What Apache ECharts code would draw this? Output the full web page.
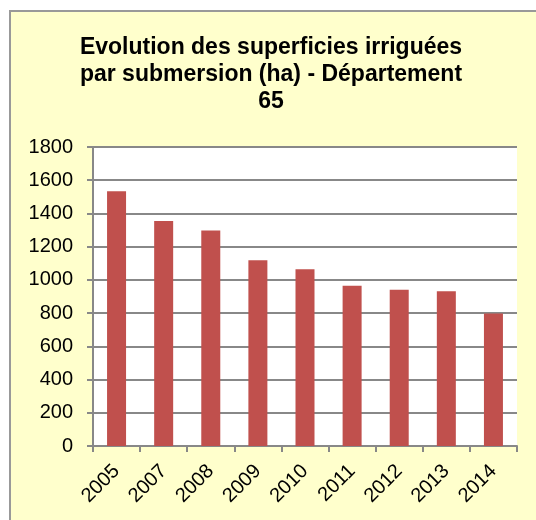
<!DOCTYPE html>
<html>
<head>
<meta charset="utf-8">
<script src="https://cdn.jsdelivr.net/npm/echarts@6/dist/echarts.min.js"></script>
<style>
  html, body { margin: 0; padding: 0; background: #fff; }
  #main { width: 536px; height: 520px; }
</style>
</head>
<body>
<div id="main"></div>
<script>
// données
const years = ["2005", "2007", "2008", "2009", "2010", "2011", "2012", "2013", "2014"]
const surfaces = [1533, 1355, 1298, 1118, 1064, 965, 940, 932, 798]
const yTicks = { min: 0, max: 1800, step: 200 }

const chart = echarts.init(document.getElementById("main"))
chart.setOption({
  animation: false,
  textStyle: { fontFamily: "Liberation Sans, Arial, sans-serif" },
  graphic: [
    {
      type: "rect",
      z: -10,
      shape: { x: 10, y: 11, width: 540, height: 520 },
      style: { fill: "#FFFFCC", stroke: "#999", lineWidth: 2 }
    }
  ],
  title: {
    text: "Evolution des superficies irriguées\npar submersion (ha) - Département\n65",
    left: 266,
    top: 29,
    textAlign: "center",
    textStyle: {
      fontSize: 23,
      fontWeight: "bold",
      color: "#000",
      lineHeight: 27,
      align: "center"
    }
  },
  grid: {
    left: 93,
    top: 147,
    right: 19,
    bottom: 74,
    show: true,
    backgroundColor: "#fff",
    borderWidth: 0
  },
  xAxis: {
    type: "category",
    data: years,
    axisLine: { lineStyle: { color: "#888", width: 2 } },
    axisTick: { show: true, length: 6, lineStyle: { color: "#888", width: 2 } },
    axisLabel: { rotate: 45, fontSize: 20, color: "#000", margin: 22 }
  },
  yAxis: {
    type: "value",
    min: yTicks.min,
    max: yTicks.max,
    interval: yTicks.step,
    axisLine: { show: true, lineStyle: { color: "#888", width: 2 } },
    axisTick: { show: true, length: 6, lineStyle: { color: "#888", width: 2 } },
    splitLine: { lineStyle: { color: "#888", width: 2 } },
    axisLabel: { fontSize: 20, color: "#000", margin: 20, formatter: (v) => String(v) }
  },
  series: [
    {
      type: "bar",
      data: surfaces,
      barWidth: 19,
      itemStyle: { color: "#C0504D" }
    }
  ]
})
</script>
</body>
</html>
